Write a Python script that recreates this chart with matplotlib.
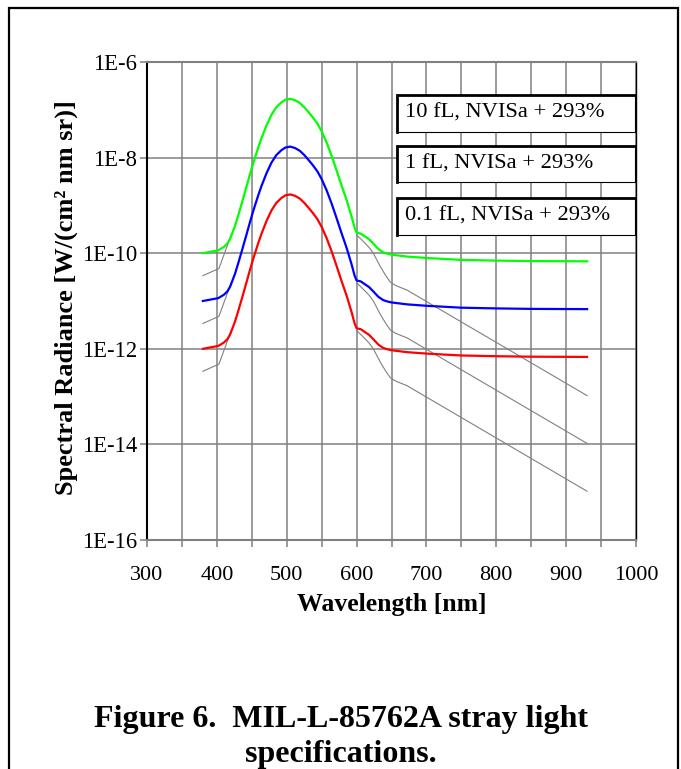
import numpy as np
import matplotlib
matplotlib.use("Agg")
import matplotlib.pyplot as plt
from matplotlib.patches import Rectangle
from matplotlib.lines import Line2D
from matplotlib.ticker import FixedLocator, MultipleLocator

plt.rcParams['font.family'] = ['Liberation Serif', 'DejaVu Serif']

# ---- data (radiance, stored as log10 of W/(cm² nm sr)) ----
wavelength = [380, 402, 410, 415, 419, 426, 431, 436, 443, 447, 452, 459, 464,
              471, 478, 485, 492, 498, 505, 512, 519, 526, 533, 538, 544, 550,
              557, 564, 571, 578, 586, 593, 597, 600, 606, 612, 618, 624, 631,
              638, 644, 650, 672, 700, 750, 800, 850, 930]
log_10fL = [-10.00, -9.94, -9.87, -9.80, -9.70, -9.43, -9.19, -8.94, -8.58,
            -8.37, -8.12, -7.80, -7.59, -7.33, -7.11, -6.95, -6.85, -6.79,
            -6.77, -6.80, -6.86, -6.96, -7.08, -7.17, -7.29, -7.45, -7.68,
            -7.95, -8.25, -8.56, -8.90, -9.24, -9.46, -9.57, -9.59, -9.65,
            -9.71, -9.80, -9.91, -9.98, -10.01, -10.03, -10.07, -10.10, -10.14,
            -10.155, -10.165, -10.17]
log_1fL = [-11.00, -10.94, -10.87, -10.80, -10.70, -10.43, -10.19, -9.94,
           -9.58, -9.37, -9.12, -8.80, -8.59, -8.33, -8.11, -7.95, -7.85,
           -7.79, -7.77, -7.80, -7.86, -7.96, -8.08, -8.17, -8.29, -8.45,
           -8.68, -8.95, -9.25, -9.56, -9.90, -10.24, -10.46, -10.57, -10.59,
           -10.65, -10.71, -10.80, -10.91, -10.98, -11.01, -11.03, -11.07,
           -11.10, -11.14, -11.155, -11.165, -11.17]
log_01fL = [-12.00, -11.94, -11.87, -11.80, -11.70, -11.43, -11.19, -10.94,
            -10.58, -10.37, -10.12, -9.80, -9.59, -9.33, -9.11, -8.95, -8.85,
            -8.79, -8.77, -8.80, -8.86, -8.96, -9.08, -9.17, -9.29, -9.45,
            -9.68, -9.95, -10.25, -10.56, -10.90, -11.24, -11.46, -11.57,
            -11.59, -11.65, -11.71, -11.80, -11.91, -11.98, -12.01, -12.03,
            -12.07, -12.10, -12.14, -12.155, -12.165, -12.17]

# thin grey reference curves (NVISa limits), left and right branches
grey_wl_left = [380, 403, 421]
grey_log_10_left = [-10.47, -10.32, -9.60]
grey_log_1_left = [-11.47, -11.32, -10.60]
grey_log_01_left = [-12.47, -12.32, -11.60]
grey_wl_right = [600, 606, 612, 618, 624, 629, 634, 641, 648, 654, 660, 672, 930]
grey_log_10_right = [-9.62, -9.70, -9.79, -9.88, -10.00, -10.14, -10.28,
                     -10.45, -10.60, -10.66, -10.70, -10.77, -12.98]
grey_log_1_right = [-10.62, -10.70, -10.79, -10.88, -11.00, -11.14, -11.28,
                    -11.45, -11.60, -11.66, -11.70, -11.77, -13.98]
grey_log_01_right = [-11.62, -11.70, -11.79, -11.88, -12.00, -12.14, -12.28,
                     -12.45, -12.60, -12.66, -12.70, -12.77, -14.98]

labels = ["10 fL, NVISa + 293%", "1 fL, NVISa + 293%", "0.1 fL, NVISa + 293%"]
x_ticks = [300, 400, 500, 600, 700, 800, 900, 1000]
y_ticks = [1e-16, 1e-14, 1e-12, 1e-10, 1e-8, 1e-6]
y_ticklabels = ["1E-16", "1E-14", "1E-12", "1E-10", "1E-8", "1E-6"]


def rad(logs):
    return np.power(10.0, np.asarray(logs))


# ---- figure ----
W, H = 681, 769
fig = plt.figure(figsize=(W / 100, H / 100), dpi=100)
fig.patch.set_facecolor('white')

# outer frame
fig.patches.append(Rectangle((8.5 / W, -0.05), (678 - 8.5) / W, 1.05 - 7.5 / H,
                             transform=fig.transFigure, fill=False,
                             edgecolor='black', linewidth=1.6, zorder=0))

ax_l, ax_r, ax_t, ax_b = 147, 636, 62, 540
ax = fig.add_axes([ax_l / W, 1 - ax_b / H, (ax_r - ax_l) / W, (ax_b - ax_t) / H])
ax.set_xlim(300, 1000)
ax.set_yscale('log')
ax.set_ylim(1e-16, 1e-6)

grid_c = '#808080'
ax.xaxis.set_major_locator(FixedLocator(x_ticks))
ax.xaxis.set_minor_locator(MultipleLocator(50))
ax.yaxis.set_major_locator(FixedLocator(y_ticks))
ax.yaxis.set_minor_locator(FixedLocator([]))
ax.set_yticklabels(y_ticklabels)
ax.grid(True, which='both', axis='x', color=grid_c, lw=1.1)
ax.grid(True, which='major', axis='y', color=grid_c, lw=1.1)
ax.set_axisbelow(True)
ax.tick_params(axis='x', which='both', direction='out', length=5, width=1.1,
               color=grid_c, labelsize=16, pad=14)
ax.tick_params(axis='y', which='major', direction='out', length=5, width=1.1,
               color=grid_c, labelsize=16.3, pad=2)

for s in ['top', 'bottom']:
    ax.spines[s].set_color(grid_c)
    ax.spines[s].set_linewidth(1.5)
ax.spines['left'].set_color('black')
ax.spines['left'].set_linewidth(1.5)
ax.spines['right'].set_color('black')
ax.spines['right'].set_linewidth(1.0)

# grey curves
for gl, gr in [(grey_log_10_left, grey_log_10_right),
               (grey_log_1_left, grey_log_1_right),
               (grey_log_01_left, grey_log_01_right)]:
    ax.plot(grey_wl_left, rad(gl), color='#808080', lw=0.8, zorder=2)
    ax.plot(grey_wl_right, rad(gr), color='#808080', lw=0.8, zorder=2)

ax.plot(wavelength, rad(log_10fL), color='#00FF00', lw=1.6, zorder=3)
ax.plot(wavelength, rad(log_1fL), color='#0000FF', lw=1.6, zorder=3)
ax.plot(wavelength, rad(log_01fL), color='#FF0000', lw=1.6, zorder=3)

fig.text(392 / W, 1 - 604 / H, "Wavelength [nm]", fontsize=18.5,
         fontweight='bold', ha='center', va='center')
fig.text(66 / W, 1 - 298 / H, "Spectral Radiance [W/(cm² nm sr)]",
         fontsize=19, fontweight='bold', ha='center', va='center', rotation=90)


# legend-like boxes
def px2ax(x, y):
    return (x - ax_l) / (ax_r - ax_l), 1 - (y - ax_t) / (ax_b - ax_t)


boxes = [(95, 131.7), (146, 182.3), (197.7, 235)]
bx0, bx1 = 396.7, 635
for (yt, yb), lab in zip(boxes, labels):
    x0, y1 = px2ax(bx0, yt)
    x1, y0 = px2ax(bx1, yb)
    ax.add_patch(Rectangle((x0, y0), x1 - x0, y1 - y0, transform=ax.transAxes,
                           facecolor='white', edgecolor='black', lw=0.8,
                           zorder=5, clip_on=False))
    ax.add_line(Line2D([x0, x0, x1], [y0, y1, y1], transform=ax.transAxes,
                       color='black', lw=2.0, zorder=6, clip_on=False,
                       solid_joinstyle='miter'))
    tx, _ = px2ax(405, 0)
    ax.text(tx, (y0 + y1) / 2, lab, transform=ax.transAxes, fontsize=16.2,
            va='center', ha='left', zorder=7)

fig.text(0.5, 1 - 727 / H, "Figure 6.  MIL-L-85762A stray light", ha='center',
         va='baseline', fontsize=23, fontweight='bold')
fig.text(0.5, 1 - 762 / H, "specifications.", ha='center', va='baseline',
         fontsize=23, fontweight='bold')

fig.savefig("out.png", dpi=100)
